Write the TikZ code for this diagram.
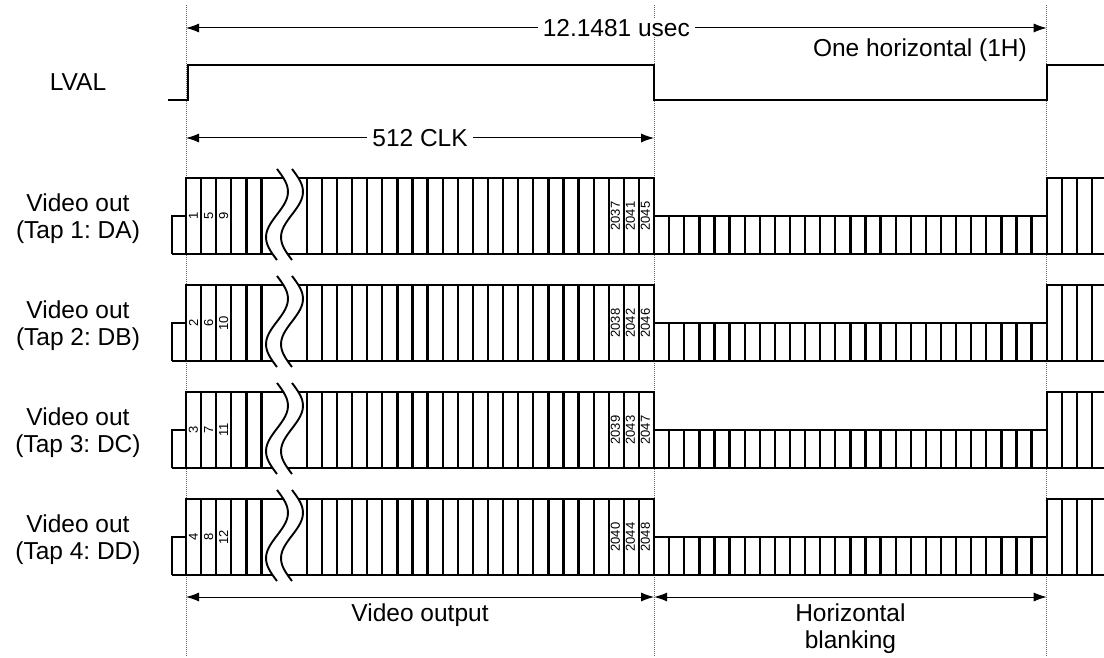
\documentclass[tikz,border=0pt]{standalone}
\usepackage{fontspec}
\setmainfont{Liberation Sans}
\usetikzlibrary{arrows.meta}
\usetikzlibrary{calc}
\frenchspacing

\begin{document}
\begin{tikzpicture}[x=1pt,y=-1pt,>={Latex[length=13pt,width=9pt]}]%,pixels
        \tikzstyle{every node}=[font=\fontsize{24.5}{27}\selectfont, inner sep=0pt, align=center]
        \tikzstyle{sinal}=[line width=2.3pt]
        \tikzstyle{cota}=[line width=1pt]
        \tikzstyle{marca}=[black!60, dash pattern=on 1pt off 1pt, line width=0.9pt]
        \tikzstyle{numero}=[font=\fontsize{13}{13}\selectfont, rotate=90]
        \tikzstyle{quebra}=[line width=1.9pt]
        \useasboundingbox (0,0) rectangle (1104,658);
        \coordinate (t0) at (186,0);
        \coordinate (t1) at (654.1,0);
        \coordinate (t2) at (1046.7,0);
        \foreach \t in {t0,t1,t2}
          \draw[marca] ($(\t)+(0,5)$) -- ($(\t)+(0,656)$);
        % LVAL
        \node (lval) at (78,82.5) {LVAL};
        \draw[sinal] (168,100) -- (188,100) -- (188,65) -- (654.1,65) -- (654.1,100) -- (1046.7,100) -- (1046.7,65) -- (1104,65);
        \path [<->,draw,cota] ($(t0)+(0,28)$) -- node[fill=white,inner xsep=5pt] (periodo) {12.1481 usec} ($(t2)+(0,28)$);
        \node[anchor=east] (umh) at (1027,50.5) {One horizontal (1H)};
        \path [<->,draw,cota] ($(t0)+(0,138)$) -- node[fill=white,inner xsep=5pt] (clk) {512 CLK} ($(t1)+(0,138)$);
        % canais de video
        \foreach \r/\tap in {1/DA,2/DB,3/DC,4/DD}{
          \pgfmathsetmacro{\topo}{178+107*(\r-1)}
          \pgfmathsetmacro{\base}{\topo+76}
          \pgfmathsetmacro{\meio}{\topo+38}
          \node (video\r) at (78,\topo+41) {Video out\\(Tap \r: \tap)};
          \draw[sinal] (172,\base) -- (172,\meio) -- (186,\meio) -- (186,\topo) -- (654.1,\topo) -- (654.1,\meio) -- (1046.7,\meio) -- (1046.7,\topo) -- (1104,\topo);
          \draw[sinal] (172,\base) -- (1104,\base);
          \foreach \k in {0,...,5,8,9,...,31,57,58,59,60}
            \draw[sinal] (186+15.1*\k,\topo) -- (186+15.1*\k,\base);
          \foreach \k in {31,...,57}
            \draw[sinal] (186+15.1*\k,\meio) -- (186+15.1*\k,\base);
          \fill[white] plot[smooth,domain=0:1,samples=31] ({277+11*sin(360*\x)},{\topo-9+91*\x})
            -- plot[smooth,domain=1:0,samples=31] ({292+11*sin(360*\x)},{\topo-9+91*\x}) -- cycle;
          \draw[quebra] plot[smooth,domain=0:1,samples=31] ({277+11*sin(360*\x)},{\topo-9+91*\x});
          \draw[quebra] plot[smooth,domain=0:1,samples=31] ({292+11*sin(360*\x)},{\topo-9+91*\x});
          \foreach \k in {0,1,2}{
            \pgfmathtruncatemacro{\rotulo}{\r+4*\k}
            \node[numero] (ini\r-\k) at (186+15.1*\k+7.5,\meio) {\rotulo};
            \pgfmathtruncatemacro{\rotulo}{2036+\r+4*\k}
            \node[numero] (fim\r-\k) at (186+15.1*\k+15.1*28+6.5,\meio) {\rotulo};
          }
        }
        \path [<->,draw,cota] ($(t0)+(0,597)$) -- node[below=6pt] (saida) {Video output} ($(t1)+(0,597)$);
        \path [<->,draw,cota] ($(t1)+(0,597)$) -- node[below=6pt] (apagamento) {Horizontal\\blanking} ($(t2)+(0,597)$);
\end{tikzpicture}
\end{document}
